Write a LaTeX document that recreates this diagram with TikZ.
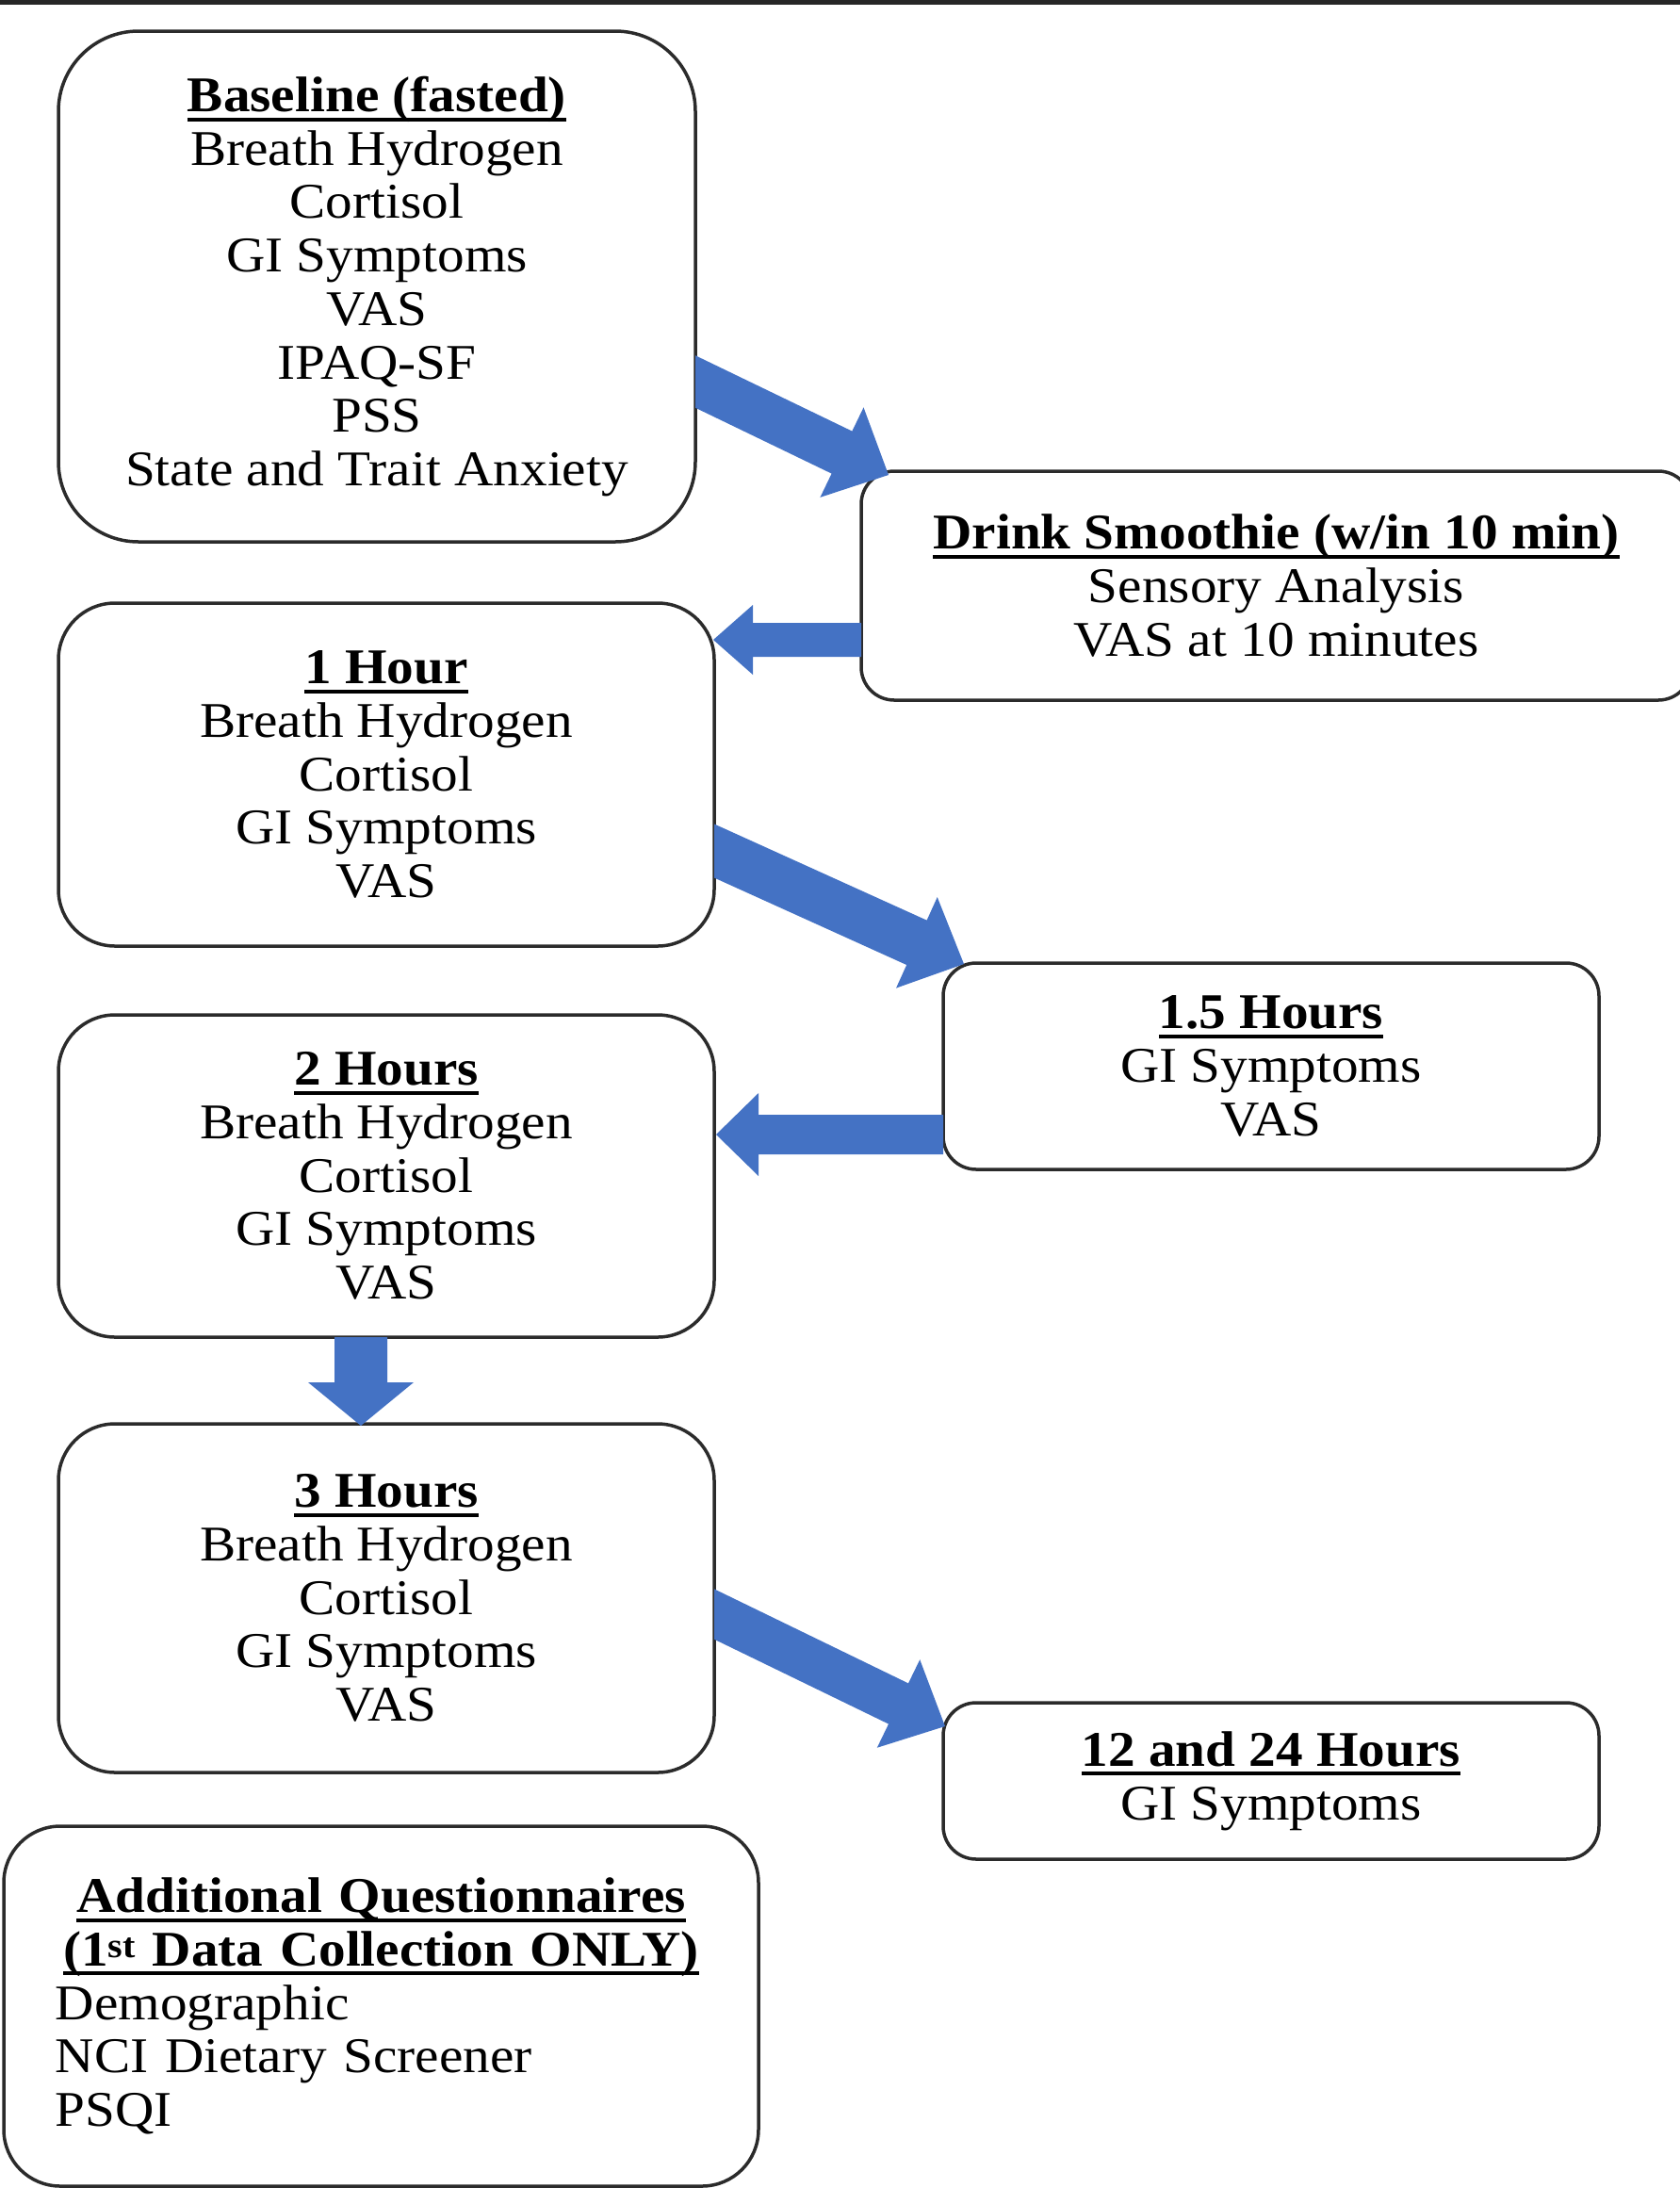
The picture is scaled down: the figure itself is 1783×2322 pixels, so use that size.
\documentclass[tikz,border=0pt]{standalone}
\usepackage{fontspec}
\setmainfont{Liberation Serif}[FakeStretch=1.08]
\usetikzlibrary{calc}
\definecolor{arrowblue}{HTML}{4472C4}
\definecolor{edgegray}{HTML}{2B2B2B}
\newcommand\hd[1]{\setbox0\hbox{\bfseries #1}\rlap{\rule[-10pt]{\wd0}{4pt}}\box0}
\newcommand\barrow[6]{%
  \coordinate (#1b) at ($(#3)!#6!(#2)$);
  \fill[arrowblue] ($(#2)!#4!90:(#3)$) -- ($(#1b)!#4!-90:(#2)$) -- ($(#1b)!#5!-90:(#2)$) -- (#3) -- ($(#1b)!#5!90:(#2)$) -- ($(#1b)!#4!90:(#2)$) -- ($(#2)!#4!-90:(#3)$) -- cycle;}
\begin{document}
\begin{tikzpicture}[x=1pt,y=-1pt,
  box/.style={draw=edgegray, line width=3.5pt, fill=white, rounded corners=#1, inner sep=0pt, outer sep=0pt, align=center, font=\fontsize{53}{56.7}\selectfont},
  box/.default=60pt]
\useasboundingbox (0,0) rectangle (1783,2322);
\clip (0,0) rectangle (1783,2322);
\fill[black!85] (0,0) rectangle (1783,5);

\node[box=85pt, minimum width=676pt, minimum height=542pt] (b1) at (400,304)
  {\hd{Baseline (fasted)}\\Breath Hydrogen\\Cortisol\\GI Symptoms\\VAS\\IPAQ-SF\\PSS\\State and Trait Anxiety};
\node[box=35pt, minimum width=881pt, minimum height=243pt] (b2) at (1354.5,621.5)
  {\hd{Drink Smoothie (w/in 10 min)}\\Sensory Analysis\\VAS at 10 minutes};
\node[box=60pt, minimum width=696pt, minimum height=364pt] (b3) at (410,822)
  {\hd{1 Hour}\\Breath Hydrogen\\Cortisol\\GI Symptoms\\VAS};
\node[box=35pt, minimum width=696pt, minimum height=219pt] (b4) at (1349,1131.5)
  {\hd{1.5 Hours}\\GI Symptoms\\VAS};
\node[box=60pt, minimum width=696pt, minimum height=342pt] (b5) at (410,1248)
  {\hd{2 Hours}\\Breath Hydrogen\\Cortisol\\GI Symptoms\\VAS};
\node[box=60pt, minimum width=696pt, minimum height=370pt] (b6) at (410,1696)
  {\hd{3 Hours}\\Breath Hydrogen\\Cortisol\\GI Symptoms\\VAS};
\node[box=35pt, minimum width=696pt, minimum height=166pt] (b7) at (1349,1890)
  {\hd{12 and 24 Hours}\\GI Symptoms};
\node[box=60pt, minimum width=801pt, minimum height=382pt, text width=691pt, align=left] (b8) at (404.5,2129)
  {\makebox[\linewidth]{\hd{Additional Questionnaires}}\\
   \makebox[\linewidth]{\hd{(1\textsuperscript{st} Data Collection ONLY)}}\\
   Demographic\\NCI Dietary Screener\\PSQI};

% arrow A: b1 -> b2
\coordinate (aAe) at ($(b1.east)+(0,101)$);
\coordinate (aAt) at ($(b2.north west)+(29,4)$);
\coordinate (aAs) at ($(aAt)!1.15!(aAe)$);
\begin{scope}
\clip (b1.north east) rectangle ($(b2.south west)+(100,0)$);
\barrow{aA}{aAs}{aAt}{25pt}{53pt}{55pt}
\end{scope}
% arrow B: b2 -> b3
\coordinate (aBs) at ($(b2.west)+(0,57.5)$);
\coordinate (aBt) at ($(b3.east)+(-1,-143)$);
\barrow{aB}{aBs}{aBt}{18pt}{37pt}{42pt}
% arrow C: b3 -> b4
\coordinate (aCe) at ($(b3.east)+(0,81)$);
\coordinate (aCt) at ($(b4.north west)+(22,1)$);
\coordinate (aCs) at ($(aCt)!1.15!(aCe)$);
\begin{scope}
\clip (b3.north east) rectangle ($(b4.south west)+(100,0)$);
\barrow{aC}{aCs}{aCt}{26pt}{53pt}{55pt}
\end{scope}
% arrow D: b4 -> b5
\coordinate (aDs) at ($(b4.west)+(0,72.5)$);
\coordinate (aDt) at ($(b5.east)+(2,-44)$);
\barrow{aD}{aDs}{aDt}{21pt}{44pt}{45pt}
% arrow E: b5 -> b6
\coordinate (aEs) at ($(b5.south)+(-27,0)$);
\coordinate (aEt) at ($(b6.north)+(-27,2)$);
\barrow{aE}{aEs}{aEt}{28pt}{56pt}{46pt}
% arrow F: b6 -> b7
\coordinate (aFe) at ($(b6.east)+(0,17)$);
\coordinate (aFt) at ($(b7.north west)+(2,25)$);
\coordinate (aFs) at ($(aFt)!1.15!(aFe)$);
\begin{scope}
\clip (b6.north east) rectangle ($(b7.south west)+(100,0)$);
\barrow{aF}{aFs}{aFt}{24pt}{52pt}{55pt}
\end{scope}
\end{tikzpicture}
\end{document}
